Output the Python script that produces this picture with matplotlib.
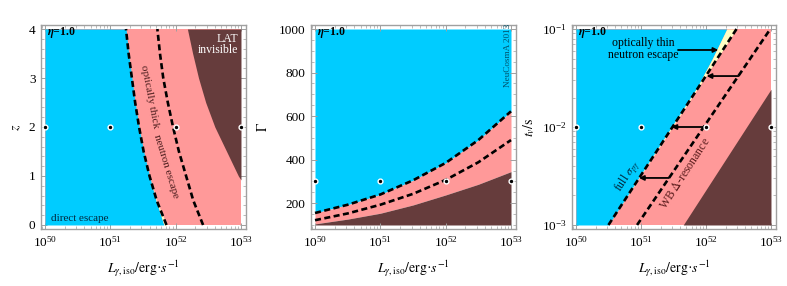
import numpy as np
import matplotlib
matplotlib.use('Agg')
import matplotlib.pyplot as plt
from matplotlib.ticker import LogLocator, MultipleLocator, NullFormatter

plt.rcParams['font.family'] = ['Liberation Serif', 'DejaVu Serif']
plt.rcParams['mathtext.fontset'] = 'stix'

CYAN = '#00ccff'
PINK = '#ff9999'
BROWN = '#663c3c'
YELLOW = '#ffffc4'
FRAME = '#a0a0a0'

# ---- panel 1: z vs log10 L
z_pts = [0, 0.5, 1, 1.5, 2, 2.5, 3, 3.5, 4]
p1_dash1 = [51.86, 51.71, 51.60, 51.51, 51.44, 51.38, 51.33, 51.28, 51.24]
p1_blue = [51.82, 51.70, 51.60, 51.51, 51.44, 51.38, 51.33, 51.28, 51.24]
p1_dash2 = [52.42, 52.27, 52.16, 52.05, 51.96, 51.88, 51.81, 51.76, 51.72]
z_brown = [0.92, 1, 1.5, 2, 2.5, 3, 3.5, 4]
p1_brown = [53.0, 52.96, 52.78, 52.60, 52.46, 52.35, 52.26, 52.18]
p1_dots_z = [2, 2, 2, 2]

# ---- panel 2: Gamma vs log10 L
p2_logL = [50, 50.5, 51, 51.5, 52, 52.5, 53]
p2_dash_up = [155, 193, 240, 305, 385, 490, 622]
p2_dash_lo = [122, 153, 193, 243, 307, 388, 490]
p2_brown = [105, 127, 154, 192, 238, 287, 345]
p2_dots_g = [300, 300, 300, 300]

# ---- panel 3: log10 t vs log10 L
p3_logt = [-3, -1]
p3_dash_full = [50.50, 52.47]
p3_dash_wb = [50.94, 52.99]
p3_blue_t = [-3, -2, -1.6, -1.3, -1]
p3_blue_L = [50.50, 51.47, 51.86, 52.10, 52.32]
p3_brown_t = [-3, -1.615]
p3_brown_L = [51.65, 53.0]
p3_dots_t = [-2, -2, -2, -2]
# arrows: (log t, tail log L, head log L)
p3_arrows = [(-1.48, 52.50, 52.01), (-2.0, 51.96, 51.47), (-2.52, 51.43, 50.97)]

dots_logL = [50, 51, 52, 53]

fig = plt.figure(figsize=(7.87, 2.86), dpi=100)
bot, hgt = 0.1993, 0.7133
ax1 = fig.add_axes([0.0521, bot, 0.2605, hgt])
ax2 = fig.add_axes([0.3952, bot, 0.2605, hgt])
ax3 = fig.add_axes([0.7268, bot, 0.2592, hgt])

Lmin, Lmax = 1e50, 1e53
dash_kw = dict(color='black', lw=1.9, dashes=(2.3, 1.3), zorder=4)


def p10(a):
    return 10.0 ** np.asarray(a, dtype=float)


def style(ax):
    ax.set_xscale('log')
    ax.set_xlim(10 ** 49.939, 10 ** 53.077)
    ax.xaxis.set_major_locator(LogLocator(base=10, numticks=10))
    ax.xaxis.set_minor_locator(LogLocator(base=10, subs=np.arange(2, 10), numticks=10))
    ax.xaxis.set_minor_formatter(NullFormatter())
    for s in ax.spines.values():
        s.set_color(FRAME)
        s.set_linewidth(1.0)
    ax.tick_params(which='both', direction='in', top=True, right=True,
                   color=FRAME, labelsize=9.5, labelcolor='black')
    ax.tick_params(which='major', length=4, width=0.7, pad=4)
    ax.tick_params(which='minor', length=2, width=0.5)
    ax.set_xlabel(r'$L_{\gamma,\mathrm{iso}}/\mathrm{erg}$·$s^{-1}$', fontsize=10)
    ax.xaxis.set_label_coords(0.5, -0.145)
    ax.text(0.029, 0.961, r'$\boldsymbol{\eta}$=1.0', transform=ax.transAxes,
            fontsize=8.5, fontweight='bold', va='center', ha='left', zorder=6)


def dots(ax, yv):
    ax.scatter(p10(dots_logL), yv, s=12, c='black', edgecolors='white',
               linewidths=1.0, zorder=7, clip_on=False)


# ---------- panel 1
ax = ax1
style(ax)
ax.set_ylim(-0.082, 4.082)
ax.yaxis.set_major_locator(MultipleLocator(1))
ax.yaxis.set_minor_locator(MultipleLocator(0.2))
ax.fill_betweenx([0, 4], Lmin, Lmax, color=PINK, lw=0, zorder=1)
ax.fill_betweenx(z_pts, Lmin, p10(p1_blue), color=CYAN, lw=0, zorder=2)
ax.fill_betweenx(z_pts, p10(p1_blue), p10(p1_dash1), color=YELLOW, lw=0, zorder=2)
ax.fill_betweenx(z_brown, p10(p1_brown), Lmax, color=BROWN, lw=0, zorder=2)
ax.plot(p10(p1_dash1), z_pts, **dash_kw)
ax.plot(p10(p1_dash2), z_pts, **dash_kw)
dots(ax, p1_dots_z)
ax.set_ylabel('$z$', fontsize=10)
ax.yaxis.set_label_coords(-0.088, 0.5)
ax.text(0.047, 0.052, 'direct escape', transform=ax.transAxes, fontsize=8,
        color='#002a40', va='center', ha='left', zorder=6)
ax.text(0.963, 0.962, 'LAT\ninvisible', transform=ax.transAxes, fontsize=8.5,
        color='white', va='top', ha='right', multialignment='right',
        linespacing=0.95, zorder=6)
ax.text(10 ** 51.607, 2.62, 'optically thick', rotation=-79, fontsize=8,
        color='#4a1c1c', ha='center', va='center', zorder=6)
ax.text(10 ** 51.852, 1.19, 'neutron escape', rotation=-73, fontsize=8,
        color='#4a1c1c', ha='center', va='center', zorder=6)

# ---------- panel 2
ax = ax2
style(ax)
ax.set_ylim(81.6, 1018.4)
ax.yaxis.set_major_locator(MultipleLocator(200))
ax.yaxis.set_minor_locator(MultipleLocator(50))
L2 = p10(p2_logL)
ax.fill_between(L2, p2_dash_up, 1000, color=CYAN, lw=0, zorder=1)
ax.fill_between(L2, p2_brown, p2_dash_up, color=PINK, lw=0, zorder=1)
ax.fill_between(L2, 100, p2_brown, color=BROWN, lw=0, zorder=1)
ax.plot(L2, p2_dash_up, **dash_kw)
ax.plot(L2, p2_dash_lo, **dash_kw)
dots(ax, p2_dots_g)
ax.set_ylabel(r'$\Gamma$', fontsize=10)
ax.yaxis.set_label_coords(-0.2, 0.5)
ax.text(0.962, 0.85, 'NeuCosmA 2013', transform=ax.transAxes, rotation=90,
        fontsize=6.6, color='#00506a', ha='center', va='center', zorder=6)

# ---------- panel 3
ax = ax3
style(ax)
ax.set_yscale('log')
ax.set_ylim(10 ** -3.041, 10 ** -0.959)
ax.yaxis.set_major_locator(LogLocator(base=10, numticks=10))
ax.yaxis.set_minor_locator(LogLocator(base=10, subs=np.arange(2, 10), numticks=10))
ax.yaxis.set_minor_formatter(NullFormatter())
ax.fill_betweenx([1e-3, 1e-1], Lmin, Lmax, color=PINK, lw=0, zorder=1)
bt = p10(p3_blue_t)
ax.fill_betweenx(bt, Lmin, p10(p3_blue_L), color=CYAN, lw=0, zorder=2)
full_at_bt = np.interp(p3_blue_t, p3_logt, p3_dash_full)
ax.fill_betweenx(bt, p10(p3_blue_L), p10(full_at_bt), color=YELLOW, lw=0, zorder=2)
ax.fill_betweenx(p10(p3_brown_t), p10(p3_brown_L), Lmax, color=BROWN, lw=0, zorder=2)
ax.plot(p10(p3_dash_full), p10(p3_logt), **dash_kw)
ax.plot(p10(p3_dash_wb), p10(p3_logt), **dash_kw)
dots(ax, p10(p3_dots_t))
for t, tail, head in p3_arrows:
    ax.annotate('', xy=(10 ** head, 10 ** t), xytext=(10 ** tail, 10 ** t),
                arrowprops=dict(arrowstyle='-|>', color='black', lw=1.3,
                                mutation_scale=7, shrinkA=0, shrinkB=0), zorder=6)
ax.annotate('', xy=(10 ** 52.19, 10 ** -1.214), xytext=(10 ** 51.57, 10 ** -1.214),
            arrowprops=dict(arrowstyle='-|>', color='black', lw=1.3,
                            mutation_scale=7, shrinkA=0, shrinkB=0), zorder=6)
ax.text(0.35, 0.881, 'optically thin\nneutron escape', transform=ax.transAxes,
        fontsize=8.5, ha='center', va='center', linespacing=0.95, zorder=6)
ax.text(10 ** 50.80, 10 ** -2.507, r'full $\sigma_{p\gamma}$', rotation=57,
        fontsize=8.5, color='#002a40', ha='center', va='center', zorder=6)
ax.text(10 ** 51.674, 10 ** -2.472, r'WB $\Delta$-resonance', rotation=57,
        fontsize=8.5, color='#5a1c1c', ha='center', va='center', zorder=6)
ax.set_ylabel(r'$t_v/\mathrm{s}$', fontsize=10)
ax.yaxis.set_label_coords(-0.17, 0.5)

fig.savefig('out.png', dpi=100)
